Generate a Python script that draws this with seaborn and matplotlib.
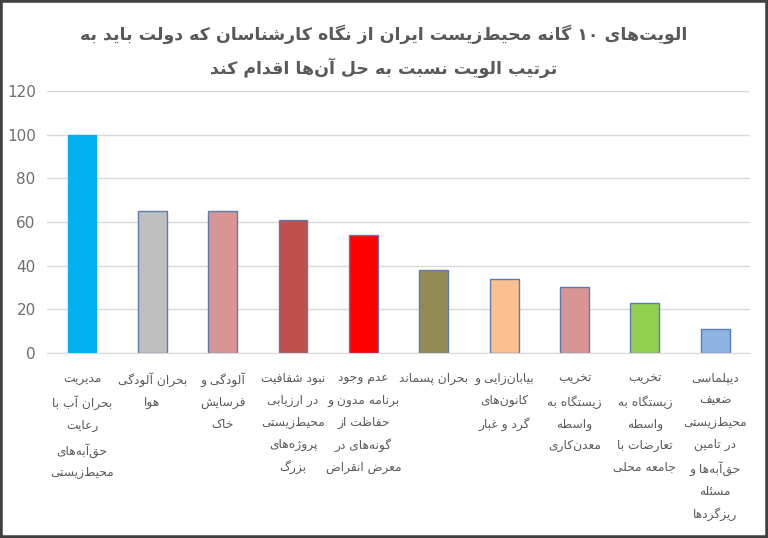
import re
import pandas as pd
import matplotlib
matplotlib.use("Agg")
import matplotlib.pyplot as plt
import matplotlib.patches as mpatches
import seaborn as sns

# data
labels = [
    "مدیریت\nبحران آب با\nرعایت\nحق‌آبه‌های\nمحیط‌زیستی",
    "بحران آلودگی\nهوا",
    "آلودگی و\nفرسایش\nخاک",
    "نبود شفافیت\nدر ارزیابی\nمحیط‌زیستی\nپروژه‌های\nبزرگ",
    "عدم وجود\nبرنامه مدون و\nحفاظت از\nگونه‌های در\nمعرض انقراض",
    "بحران پسماند",
    "بیابان‌زایی و\nکانون‌های\nگرد و غبار",
    "تخریب\nزیستگاه به\nواسطه\nمعدن‌کاری",
    "تخریب\nزیستگاه به\nواسطه\nتعارضات با\nجامعه محلی",
    "دیپلماسی\nضعیف\nمحیط‌زیستی\nدر تامین\nحق‌آبه‌ها و\nمسئله\nریزگردها",
]
values = [100, 65, 65, 61, 54, 38, 34, 30, 23, 11]
bar_colors = ["#00B0F0", "#BFBFBF", "#D99594", "#C0504D", "#FF0000",
              "#948A54", "#FAC090", "#D99594", "#92D050", "#8DB4E2"]
title = ("الویت‌های ۱۰ گانه محیط‌زیست ایران از نگاه کارشناسان که دولت باید به\n"
         "ترتیب الویت نسبت به حل آن‌ها اقدام کند")

# --- small persian shaper (matplotlib has no arabic shaping / bidi) ---
# (isolated, final, initial, medial)
FORMS = {
    'ا': (0xFE8D, 0xFE8E, None, None), 'آ': (0xFE81, 0xFE82, None, None),
    'د': (0xFEA9, 0xFEAA, None, None), 'ذ': (0xFEAB, 0xFEAC, None, None),
    'ر': (0xFEAD, 0xFEAE, None, None), 'ز': (0xFEAF, 0xFEB0, None, None),
    'ژ': (0xFB8A, 0xFB8B, None, None), 'و': (0xFEED, 0xFEEE, None, None),
    'ب': (0xFE8F, 0xFE90, 0xFE91, 0xFE92), 'پ': (0xFB56, 0xFB57, 0xFB58, 0xFB59),
    'ت': (0xFE95, 0xFE96, 0xFE97, 0xFE98), 'ث': (0xFE99, 0xFE9A, 0xFE9B, 0xFE9C),
    'ج': (0xFE9D, 0xFE9E, 0xFE9F, 0xFEA0), 'چ': (0xFB7A, 0xFB7B, 0xFB7C, 0xFB7D),
    'ح': (0xFEA1, 0xFEA2, 0xFEA3, 0xFEA4), 'خ': (0xFEA5, 0xFEA6, 0xFEA7, 0xFEA8),
    'س': (0xFEB1, 0xFEB2, 0xFEB3, 0xFEB4), 'ش': (0xFEB5, 0xFEB6, 0xFEB7, 0xFEB8),
    'ص': (0xFEB9, 0xFEBA, 0xFEBB, 0xFEBC), 'ض': (0xFEBD, 0xFEBE, 0xFEBF, 0xFEC0),
    'ط': (0xFEC1, 0xFEC2, 0xFEC3, 0xFEC4), 'ظ': (0xFEC5, 0xFEC6, 0xFEC7, 0xFEC8),
    'ع': (0xFEC9, 0xFECA, 0xFECB, 0xFECC), 'غ': (0xFECD, 0xFECE, 0xFECF, 0xFED0),
    'ف': (0xFED1, 0xFED2, 0xFED3, 0xFED4), 'ق': (0xFED5, 0xFED6, 0xFED7, 0xFED8),
    'ک': (0xFB8E, 0xFB8F, 0xFB90, 0xFB91), 'گ': (0xFB92, 0xFB93, 0xFB94, 0xFB95),
    'ل': (0xFEDD, 0xFEDE, 0xFEDF, 0xFEE0), 'م': (0xFEE1, 0xFEE2, 0xFEE3, 0xFEE4),
    'ن': (0xFEE5, 0xFEE6, 0xFEE7, 0xFEE8), 'ه': (0xFEE9, 0xFEEA, 0xFEEB, 0xFEEC),
    'ی': (0xFBFC, 0xFBFD, 0xFBFE, 0xFBFF), 'ئ': (0xFE89, 0xFE8A, 0xFE8B, 0xFE8C),
}
LAM_ALEF = {'ا': (0xFEFB, 0xFEFC), 'آ': (0xFEF5, 0xFEF6)}


def joins_forward(c):
    return c in FORMS and FORMS[c][2] is not None


def shape_line(s):
    out = []
    i = 0
    while i < len(s):
        c = s[i]
        prev = s[i - 1] if i > 0 else ''
        nxt = s[i + 1] if i + 1 < len(s) else ''
        jp = joins_forward(prev)
        if c == 'ل' and nxt in LAM_ALEF:
            out.append(chr(LAM_ALEF[nxt][1 if jp else 0]))
            i += 2
            continue
        if c not in FORMS:
            if c != '\u200c':
                out.append(c)
            i += 1
            continue
        iso, fin, ini, med = FORMS[c]
        jn = ini is not None and nxt in FORMS
        if jp and jn:
            g = med
        elif jp:
            g = fin
        elif jn:
            g = ini
        else:
            g = iso
        out.append(chr(g))
        i += 1
    vis = ''.join(out)[::-1]
    return re.sub(r'[0-9۰-۹]+', lambda m: m.group()[::-1], vis)


def fa(text):
    return '\n'.join(shape_line(l) for l in text.split('\n'))


df = pd.DataFrame({'label': [fa(l) for l in labels], 'value': values})

sns.set_style("white")
plt.rcParams['font.family'] = ['DejaVu Sans']

fig = plt.figure(figsize=(7.68, 5.38), dpi=100)
ax = fig.add_axes([0.061, 0.344, 0.916, 0.487])

sns.barplot(data=df, x='label', y='value', hue='label', palette=bar_colors,
            legend=False, width=0.41, saturation=1, ax=ax)

for k, p in enumerate(ax.patches):
    if k == 0:
        p.set_edgecolor(bar_colors[0])
    else:
        p.set_edgecolor('#5B7DB1')
    p.set_linewidth(1.0)

ax.set_ylim(0, 120)
ax.set_yticks(range(0, 121, 20))
ax.set_xlim(-0.5, len(values) - 0.5)
ax.yaxis.grid(True, color='#D9D9D9', linewidth=1)
ax.set_axisbelow(True)
for s in ['top', 'right', 'left']:
    ax.spines[s].set_visible(False)
ax.spines['bottom'].set_color('#D9D9D9')
ax.set_xlabel('')
ax.set_ylabel('')
ax.tick_params(axis='y', length=0, labelsize=11, labelcolor='#6E6E6E', pad=8)
ax.tick_params(axis='x', length=0, labelsize=8.8, labelcolor='#595959', pad=14)
for t in ax.get_xticklabels():
    t.set_linespacing(1.88)
    t.set_va('top')

fig.text(0.5, 1 - 51 / 538, fa(title), ha='center', va='center',
         fontsize=12.5, fontweight='bold', color='#595959', linespacing=1.85)

fig.patches.append(mpatches.Rectangle((0, 0), 1, 1, transform=fig.transFigure,
                                      fill=False, edgecolor='#404040',
                                      linewidth=4, zorder=10))

fig.savefig('out.png', dpi=100, facecolor='white')
